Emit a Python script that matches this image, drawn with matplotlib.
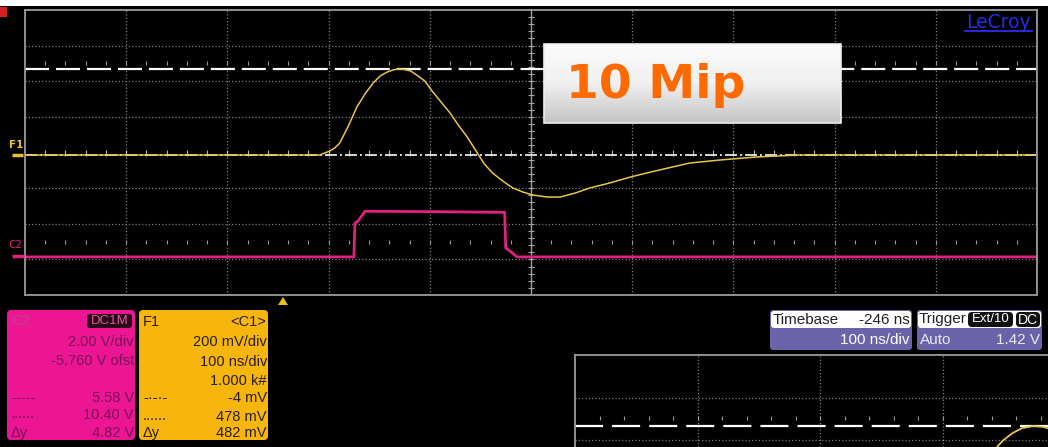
import numpy as np
import matplotlib
matplotlib.use("Agg")
import matplotlib.pyplot as plt
from matplotlib.patches import Rectangle, FancyBboxPatch, Polygon

plt.rcParams['lines.scale_dashes'] = False

# ---------------- data ----------------
# F1 trace: time (ns, 0 = screen centre) and amplitude (mV)
f1_time_ns = [-500, -209, -199, -194, -189, -181, -172, -164, -156, -149, -142,
              -136, -130, -125, -119, -113, -105, -97, -89, -80, -72, -63, -53,
              -46, -38, -28, -18, -8, 2, 16, 29, 44, 58, 78, 98, 118, 140, 157,
              187, 223, 266, 500]
f1_mv = [-4, -4, 18, 35, 63, 153, 266, 339, 400, 440, 462,
         474, 479, 476, 468, 445, 412, 350, 294, 232, 165, 97, 7,
         -55, -105, -150, -189, -212, -229, -240, -240, -217, -189, -161, -128, -100, -71, -49,
         -32, -15, -4, -4]

# C2 trace: time (ns) and volts
c2_time_ns = [-500, -175, -174, -171, -164, -100, -26, -25, -20, -14, 500]
c2_volts = [-0.1, -0.1, 1.8, 1.9, 2.46, 2.44, 2.40, 0.4, 0.2, -0.1, -0.1]

# channel settings
f1_mv_per_div = 200
f1_offset_mv = 10
c2_v_per_div = 2.0
c2_offset_v = -5.76
cursor_f1_mv = [-4, 478]

# lower (second) screen fragment: divisions from left / from centre line
lower_x_div = [3.41, 3.49, 3.57, 3.65, 3.74, 3.82, 3.88]
lower_y_div = [-2.28, -2.02, -1.84, -1.72, -1.67, -1.69, -1.74]

# readout panels
c2_panel_right = ["2.00 V/div", "-5.760 V ofst", "5.58 V", "10.40 V", "4.82 V"]
f1_panel_right = ["200 mV/div", "100 ns/div", "1.000 k#", "-4 mV", "478 mV", "482 mV"]

# ---------------- figure ----------------
W, H = 1048, 447
fig = plt.figure(figsize=(W / 100, H / 100), dpi=100, facecolor='black')

def px_axes(x0, y0, x1, y1, **kw):
    return fig.add_axes([x0 / W, 1 - y1 / H, (x1 - x0) / W, (y1 - y0) / H], **kw)

# background overlay (pixel coordinates)
bg = px_axes(0, 0, W, H)
bg.set_xlim(0, W); bg.set_ylim(H, 0); bg.axis('off'); bg.set_zorder(0)
bg.add_patch(Rectangle((0, 0), W, 6, color='white', lw=0))
bg.add_patch(Rectangle((0, 7), 7, 10, color='#d42020', lw=0))

# ---------------- main screen ----------------
YELLOW = '#E7C54C'
MAGENTA = '#E2207F'
GRID = '#8c8c8c'

ax = px_axes(25, 10, 1037, 295)
ax.set_zorder(1)
ax.set_facecolor('black')
ax.set_xlim(-500, 500)
ax.set_ylim(-4, 4)
ax.set_xticks([]); ax.set_yticks([])
for s in ax.spines.values():
    s.set_color('#9a9a9a'); s.set_linewidth(1.3)

xs = np.arange(-400, 500, 100)
ys = np.arange(-3, 4, 1)
for x in xs:
    if x == 0:
        ax.axvline(0, color='#a0a0a0', lw=1.0)
    else:
        ax.axvline(x, color=GRID, lw=0.9, linestyle=(0, (0.8, 1.6)))
for y in ys:
    if y == 0:
        continue
    ax.axhline(y, color=GRID, lw=0.9, linestyle=(0, (0.8, 1.6)))

# minor tick marks
minor_x = np.arange(-480, 500, 20)
ax.plot(minor_x, np.zeros_like(minor_x), ls='none', marker='|', ms=5, mew=0.8, color='#b8b8b8')
ax.plot(minor_x, np.full_like(minor_x, 2.5, dtype=float), ls='none', marker='|', ms=2.5, mew=0.8, color='#9a9a9a')
ax.plot(minor_x, np.full_like(minor_x, -2.5, dtype=float), ls='none', marker='|', ms=2.5, mew=0.8, color='#9a9a9a')
minor_y = np.arange(-3.8, 4, 0.2)
ax.plot(np.zeros_like(minor_y), minor_y, ls='none', marker='_', ms=5, mew=0.8, color='#a8a8a8')

# cursors
c_lo = (cursor_f1_mv[0] - f1_offset_mv) / f1_mv_per_div
c_hi = (cursor_f1_mv[1] - f1_offset_mv) / f1_mv_per_div
l1, = ax.plot([-500, 500], [c_lo, c_lo], color='#e8e8e8', lw=1.3)
l1.set_dashes([8.6, 2.2, 1.4, 2.2])
l2, = ax.plot([-500, 500], [c_hi, c_hi], color='white', lw=1.6)
l2.set_dashes([17.3, 5.0])

# traces
c2_div = (np.array(c2_volts) + c2_offset_v) / c2_v_per_div
ax.plot(c2_time_ns, c2_div, color=MAGENTA, lw=2.0, solid_joinstyle='round')
f1_div = (np.array(f1_mv) - f1_offset_mv) / f1_mv_per_div
ax.plot(f1_time_ns, f1_div, color=YELLOW, lw=1.1, solid_joinstyle='round')

# ---------------- lower screen fragment ----------------
ax2 = px_axes(575, 355, W, H)
ax2.set_zorder(1)
ax2.set_facecolor('black')
ax2.set_xlim(0, (W - 575) / 122.5)
ax2.set_ylim(-(H - 355) / 42.5, 0)
ax2.set_xticks([]); ax2.set_yticks([])
for k in ['right', 'bottom']:
    ax2.spines[k].set_visible(False)
for k in ['top', 'left']:
    ax2.spines[k].set_color('#9a9a9a'); ax2.spines[k].set_linewidth(1.3)
for x in [1, 2, 3]:
    ax2.axvline(x, color=GRID, lw=0.9, linestyle=(0, (0.8, 1.6)))
for y in [-1.0, -2.0]:
    ax2.axhline(y, color=GRID, lw=0.9, linestyle=(0, (0.8, 1.6)))
mx2 = np.arange(0.2, 3.9, 0.2)
ax2.plot(mx2, np.full_like(mx2, -1.49), ls='none', marker='|', ms=2.5, mew=0.8, color='#9a9a9a')
l3, = ax2.plot([0, 4], [-1.66, -1.66], color='white', lw=1.6)
l3.set_dashes([20.2, 6.5])
ax2.plot(lower_x_div, lower_y_div, color=YELLOW, lw=1.3)

# ---------------- overlay (pixel coordinates) ----------------
ov = px_axes(0, 0, W, H)
ov.set_xlim(0, W); ov.set_ylim(H, 0); ov.axis('off'); ov.set_zorder(3)
ov.patch.set_alpha(0)

# "10 Mip" label box with gradient
grad = np.linspace(0, 1, 100).reshape(-1, 1)
from matplotlib.colors import LinearSegmentedColormap
cm = LinearSegmentedColormap.from_list('g', ['#fbfbfb', '#f0f0f0', '#c4c4c4'])
ov.imshow(grad, extent=(544, 841, 123, 44), cmap=cm, aspect='auto', zorder=3)
ov.add_patch(Rectangle((544, 44), 297, 79, fill=False, ec='#eeeeee', lw=1.2, zorder=4))
ov.text(566, 86, "10 Mip", color='#FF6A00', fontsize=34, fontweight='bold',
        family='DejaVu Sans', va='center', ha='left', zorder=5)
ov.set_xlim(0, W); ov.set_ylim(H, 0)

# LeCroy logo
ov.text(998, 22, "LeCroy", color='#2a2ae0', fontsize=13.5, family='DejaVu Sans',
        ha='center', va='center', zorder=5)
ov.plot([965, 1032], [31, 31], color='#2a2ae0', lw=1.4, zorder=5)

# channel markers on left
ov.text(9, 145, "F1", color='#E8C030', fontsize=7.5, fontweight='bold', va='center', ha='left')
ov.plot([12, 23], [155, 155], color='#E8C030', lw=2.5, solid_capstyle='butt')
ov.text(8, 245, "C2", color=MAGENTA, fontsize=7.5, va='center', ha='left')
ov.plot([12, 24], [256, 256], color=MAGENTA, lw=2.5, solid_capstyle='butt')

# trigger marker
ov.add_patch(Polygon([[278, 305], [288, 305], [283, 297]], closed=True, color='#E8C020', lw=0))

# readout panels
PF = ['Liberation Sans', 'DejaVu Sans']
C2COL = '#EC1594'
F1COL = '#F7B60E'
ov.add_patch(FancyBboxPatch((7, 310), 128, 130, boxstyle='round,pad=0,rounding_size=4',
                            fc=C2COL, ec='none'))
ov.add_patch(FancyBboxPatch((139, 310), 129, 130, boxstyle='round,pad=0,rounding_size=4',
                            fc=F1COL, ec='none'))
c2t = '#7a1055'
f1t = '#2a1e00'
fs = 10.5
ov.text(11, 321, "C2", color='#b34a8a', fontsize=fs, family=PF, va='center')
ov.add_patch(FancyBboxPatch((87, 314), 45, 14, boxstyle='round,pad=0,rounding_size=3',
                            fc='#2a0818', ec='none'))
ov.text(109.5, 321, "DC1M", color='#e05aa0', fontsize=9.5, family=PF, va='center', ha='center')
c2_rows = [342, 361, 398, 415, 433]
for t, y in zip(c2_panel_right, c2_rows):
    ov.text(134, y, t, color=c2t, fontsize=fs, family=PF, va='center', ha='right')
ov.text(11, 398, "-----", color=c2t, fontsize=fs, family=PF, va='center')
ov.text(11, 414, "......", color=c2t, fontsize=fs, family=PF, va='center')
ov.text(11, 433, "\u0394y", color=c2t, fontsize=fs, family=PF, va='center')

ov.text(143, 322, "F1", color=f1t, fontsize=fs, family=PF, va='center')
ov.text(266, 322, "<C1>", color=f1t, fontsize=fs, family=PF, va='center', ha='right')
f1_rows = [342, 362, 381, 398, 417, 433]
for t, y in zip(f1_panel_right, f1_rows):
    ov.text(267, y, t, color=f1t, fontsize=fs, family=PF, va='center', ha='right')
ov.text(143, 398, "-\u00b7-\u00b7-", color=f1t, fontsize=fs, family=PF, va='center')
ov.text(143, 416, "......", color=f1t, fontsize=fs, family=PF, va='center')
ov.text(143, 433, "\u0394y", color=f1t, fontsize=fs, family=PF, va='center')

# timebase / trigger panels
PUR = '#6B63A9'
ov.add_patch(FancyBboxPatch((770, 310), 142, 40, boxstyle='round,pad=0,rounding_size=3',
                            fc=PUR, ec='none'))
ov.add_patch(FancyBboxPatch((771, 311), 140, 17, boxstyle='round,pad=0,rounding_size=3',
                            fc='white', ec='none'))
ov.text(773, 319.5, "Timebase", color='#222222', fontsize=11, family=PF, va='center')
ov.text(910, 319.5, "-246 ns", color='#222222', fontsize=11, family=PF, va='center', ha='right')
ov.text(910, 340, "100 ns/div", color='white', fontsize=11, family=PF, va='center', ha='right')

ov.add_patch(FancyBboxPatch((917, 310), 125, 40, boxstyle='round,pad=0,rounding_size=3',
                            fc=PUR, ec='none'))
ov.add_patch(FancyBboxPatch((918, 311), 123, 17, boxstyle='round,pad=0,rounding_size=3',
                            fc='white', ec='none'))
ov.text(919, 319.5, "Trigger", color='#222222', fontsize=11, family=PF, va='center')
ov.add_patch(FancyBboxPatch((968, 312), 45, 15, boxstyle='round,pad=0,rounding_size=4',
                            fc='#111111', ec='none'))
ov.text(990.5, 319.5, "Ext/10", color='white', fontsize=9.5, family=PF, va='center', ha='center')
ov.add_patch(FancyBboxPatch((1016, 312), 24, 15, boxstyle='round,pad=0,rounding_size=4',
                            fc='#111111', ec='none'))
ov.text(1028, 319.5, "DC", color='white', fontsize=10, family=PF, va='center', ha='center')
ov.text(920, 340, "Auto", color='#e8e8f0', fontsize=11, family=PF, va='center')
ov.text(1040, 340, "1.42 V", color='#e8e8f0', fontsize=11, family=PF, va='center', ha='right')

fig.savefig('out.png', dpi=100, facecolor='black')
